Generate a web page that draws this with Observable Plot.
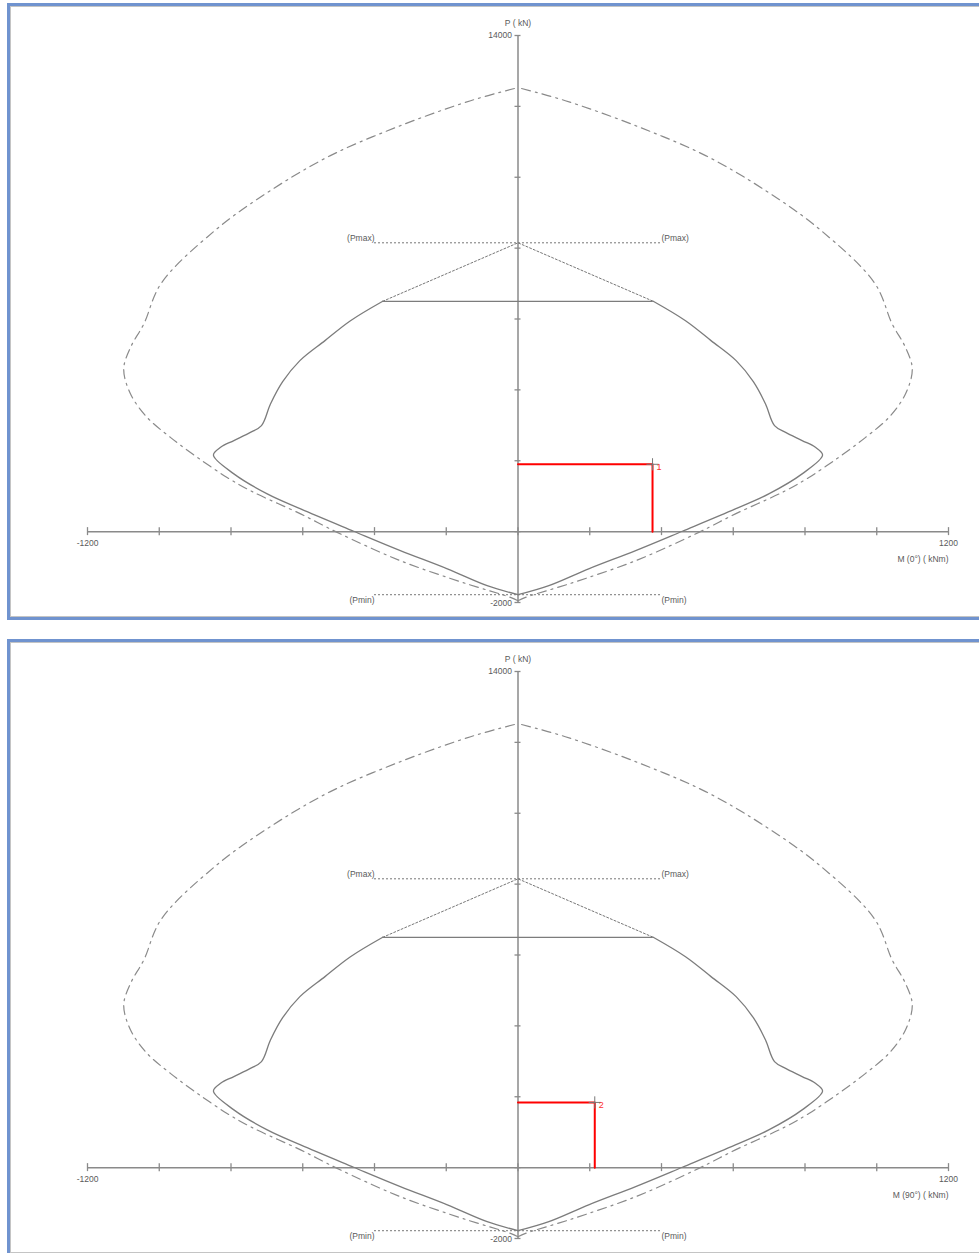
<!DOCTYPE html>
<html>
<head>
<meta charset="utf-8">
<script src="https://cdn.jsdelivr.net/npm/d3@7"></script>
<script src="https://cdn.jsdelivr.net/npm/@observablehq/plot@0.6"></script>
<style>
  html, body { margin: 0; padding: 0; background: #fff; }
  body { width: 979px; height: 1253px; overflow: hidden; position: relative; font-family: "Liberation Sans", Arial, sans-serif; }
  .panel { position: absolute; left: 0; width: 979px; height: 636px; }
  .frame {
    position: absolute; left: 7px; top: 3px; width: 1010px; height: 617px;
    box-sizing: border-box; border: 3px solid #7093cf; border-right: none;
    box-shadow: inset 1px 1px 0 #c4c4c4, inset 0 -1px 0 #c4c4c4;
  }
  .panel svg { position: absolute; left: 0; top: 0; }
</style>
</head>
<body>
<div class="panel" id="p1" style="top:0px"><div class="frame"></div></div>
<div class="panel" id="p2" style="top:636px"><div class="frame"></div></div>
<script>
// Axis ticks (kNm / kN)
const xTicks = [-1200, -1000, -800, -600, -400, -200, 0, 200, 400, 600, 800, 1000, 1200];
const yTicks = [-2000, 0, 2000, 4000, 6000, 8000, 10000, 12000, 14000];

// Design interaction curve (solid): each half runs from Pmin up to the flat cap
const innerLeftM  = [0, -86, -197, -328, -458, -606, -699, -792, -849, -829, -792, -746, -715, -690, -656, -608, -538, -467, -377];
const innerLeftP  = [-1780, -1525, -1050, -535, 10, 640, 1065, 1630, 2160, 2380, 2570, 2800, 2990, 3600, 4230, 4825, 5390, 5950, 6500];
const innerRightM = [0, 86, 197, 328, 458, 606, 699, 792, 849, 829, 792, 746, 715, 690, 656, 608, 538, 467, 377];
const innerRightP = [-1780, -1525, -1050, -535, 10, 640, 1065, 1630, 2160, 2380, 2570, 2800, 2990, 3600, 4230, 4825, 5390, 5950, 6500];

// Nominal interaction curve (dash-dot): each half runs from the tension tip to the compression tip
const outerLeftM  = [0, -21, -142, -328, -504, -606, -746, -811, -894, -969, -1034, -1080, -1099, -1080, -1043, -995, -845, -690, -523, -328, -132, 0];
const outerLeftP  = [-1950, -1855, -1475, -820, -20, 500, 1155, 1530, 2095, 2660, 3225, 3885, 4590, 5200, 5860, 7000, 8495, 9625, 10610, 11455, 12160, 12530];
const outerRightM = [0, 21, 142, 328, 504, 606, 746, 811, 894, 969, 1034, 1080, 1099, 1080, 1043, 995, 845, 690, 523, 328, 132, 0];
const outerRightP = [-1950, -1855, -1475, -820, -20, 500, 1155, 1530, 2095, 2660, 3225, 3885, 4590, 5200, 5860, 7000, 8495, 9625, 10610, 11455, 12160, 12530];

// Cap lines
const pMax = 8150;
const pMin = -1780;
const capM = [-400, 400];
const pFlat = 6500;
const mFlat = [-377, 0, 377];
const pTaper = [pFlat, pMax, pFlat];

// Load points per panel
const loadLabels = ["1", "2"];
const loadM = [375, 214];
const loadP = [1900, 1840];
const axisTitles = ["M (0°) ( kNm)", "M (90°) ( kNm)"];

const grey = "#8a8a8a";
const textGrey = "#5a5a5a";
const font = "Liberation Sans, Arial, sans-serif";

const toPts = (ms, ps) => ms.map((m, i) => ({m, p: ps[i]}));

function panel(k) {
  const taper = toPts(mFlat, pTaper);
  const load = [{m: 0, p: loadP[k]}, {m: loadM[k], p: loadP[k]}, {m: loadM[k], p: 0}];
  const curveLine = (pts, opts) => Plot.line(pts, {x: "m", y: "p", curve: "catmull-rom", ...opts});
  const solid = {stroke: "#7c7c7c", strokeWidth: 1.3};
  const dashDot = {stroke: grey, strokeWidth: 1.2, strokeDasharray: "9,5,2,5"};
  return Plot.plot({
    width: 979,
    height: 620,
    marginLeft: 87,
    marginRight: 31,
    marginTop: 35,
    marginBottom: 18,
    style: {background: "transparent", overflow: "visible", fontFamily: font},
    x: {domain: [-1200, 1200], axis: null},
    y: {domain: [-2000, 14000], axis: null},
    marks: [
      // axes
      Plot.ruleY([0], {x1: -1200, x2: 1200, stroke: grey, strokeWidth: 1.5}),
      Plot.ruleX([0], {y1: -2000, y2: 14000, stroke: grey, strokeWidth: 1.5}),
      Plot.ruleX(xTicks, {x: d => d, y1: 0, y2: 0, insetTop: -4, insetBottom: -4, stroke: grey, strokeWidth: 1.3}),
      Plot.ruleY(yTicks, {y: d => d, x1: 0, x2: 0, insetLeft: -3, insetRight: -3, stroke: grey, strokeWidth: 1.3}),
      // Pmax / Pmin caps
      Plot.ruleY([pMax], {x1: capM[0], x2: capM[1], stroke: "#777", strokeWidth: 1, strokeDasharray: "2,2"}),
      Plot.ruleY([pMin], {x1: capM[0], x2: capM[1], stroke: "#777", strokeWidth: 1, strokeDasharray: "2,2"}),
      Plot.line(taper, {x: "m", y: "p", stroke: "#777", strokeWidth: 1, strokeDasharray: "2,2"}),
      // nominal curve
      curveLine(toPts(outerLeftM, outerLeftP), dashDot),
      curveLine(toPts(outerRightM, outerRightP), dashDot),
      // design curve with its flat compression cap
      curveLine(toPts(innerLeftM, innerLeftP), solid),
      curveLine(toPts(innerRightM, innerRightP), solid),
      Plot.ruleY([pFlat], {x1: mFlat[0], x2: mFlat[2], ...solid}),
      // load point
      Plot.line(load, {x: "m", y: "p", stroke: "#ff0000", strokeWidth: 2}),
      Plot.dot([load[1]], {x: "m", y: "p", symbol: "plus", r: 4, stroke: "#777", strokeWidth: 1}),
      Plot.text([load[1]], {x: "m", y: "p", text: () => loadLabels[k], fill: "#ff3030", fontSize: 9, textAnchor: "start", dx: 4, dy: 3}),
      // labels
      Plot.text(["(Pmax)"], {x: capM[0], y: pMax, textAnchor: "end", dy: -5, fill: textGrey, fontSize: 8.5}),
      Plot.text(["(Pmax)"], {x: capM[1], y: pMax, textAnchor: "start", dy: -5, fill: textGrey, fontSize: 8.5}),
      Plot.text(["(Pmin)"], {x: capM[0], y: pMin, textAnchor: "end", dy: 6, fill: textGrey, fontSize: 8.5}),
      Plot.text(["(Pmin)"], {x: capM[1], y: pMin, textAnchor: "start", dy: 6, fill: textGrey, fontSize: 8.5}),
      Plot.text(["-1200"], {x: -1200, y: 0, dy: 12, fill: textGrey, fontSize: 8.5}),
      Plot.text(["1200"], {x: 1200, y: 0, dy: 12, fill: textGrey, fontSize: 8.5}),
      Plot.text([axisTitles[k]], {x: 1200, y: 0, dy: 28, textAnchor: "end", fill: textGrey, fontSize: 8.5}),
      Plot.text(["P ( kN)"], {x: 0, y: 14000, dy: -12, fill: textGrey, fontSize: 8.5}),
      Plot.text(["14000"], {x: 0, y: 14000, dx: -6, textAnchor: "end", fill: textGrey, fontSize: 8.5}),
      Plot.text(["-2000"], {x: 0, y: -2000, dx: -6, dy: 1, textAnchor: "end", fill: textGrey, fontSize: 8.5})
    ]
  });
}

document.getElementById("p1").appendChild(panel(0));
document.getElementById("p2").appendChild(panel(1));
</script>
</body>
</html>
